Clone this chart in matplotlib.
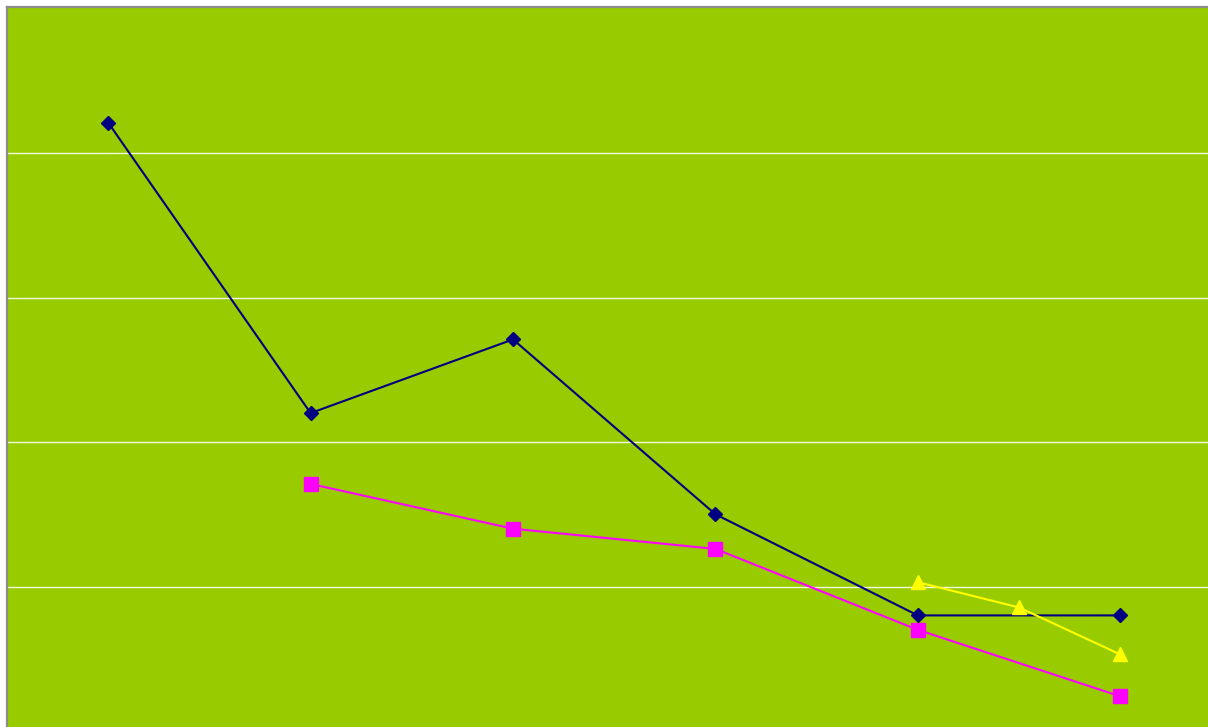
import numpy as np
import matplotlib
matplotlib.use('Agg')
import matplotlib.pyplot as plt

# Category positions (centres of 6 bins; yellow has a half-step point)
x_blue = [0.5, 1.5, 2.5, 3.5, 4.5, 5.5]
blue = [4.21, 2.20, 2.71, 1.50, 0.80, 0.80]

x_magenta = [1.5, 2.5, 3.5, 4.5, 5.5]
magenta = [1.71, 1.40, 1.26, 0.70, 0.24]

x_yellow = [4.5, 5.0, 5.5]
yellow = [1.03, 0.855, 0.53]

W, H = 1208, 727
fig = plt.figure(figsize=(W / 100, H / 100), dpi=100)
fig.patch.set_facecolor('white')

# plot area is cropped on the right and bottom, like the reference
left_px, top_px = 7, 7
cat_w = 202.4
unit_px = 144.5
right_px = left_px + 6 * cat_w
bottom_px = 731.0
ax = fig.add_axes([left_px / W, (H - bottom_px) / H,
                   (right_px - left_px) / W, (bottom_px - top_px) / H])
ax.set_facecolor('#99CC00')

ax.set_xlim(0, 6)
ax.set_ylim(0, (bottom_px - top_px) / unit_px)
ax.set_yticks([1, 2, 3, 4])
ax.set_xticks([])
ax.tick_params(length=0, labelleft=False)
ax.grid(True, axis='y', color='#F0F8E0', linewidth=1)
ax.set_axisbelow(True)

for side in ['right', 'bottom']:
    ax.spines[side].set_visible(False)
for side in ['left', 'top']:
    ax.spines[side].set_color('#8C8C8C')
    ax.spines[side].set_linewidth(1.6)

ax.plot(x_blue, blue, color='#000080', linewidth=1.5, marker='D',
        markersize=7, markerfacecolor='#000080', markeredgecolor='#000080',
        clip_on=False)
ax.plot(x_magenta, magenta, color='#FF00FF', linewidth=1.5, marker='s',
        markersize=10, markerfacecolor='#FF00FF', markeredgecolor='#FF00FF')
ax.plot(x_yellow, yellow, color='#FFFF00', linewidth=1.5, marker='^',
        markersize=10, markerfacecolor='#FFFF00', markeredgecolor='#FFFF00')

fig.savefig('out.png', dpi=100, facecolor=fig.get_facecolor())
